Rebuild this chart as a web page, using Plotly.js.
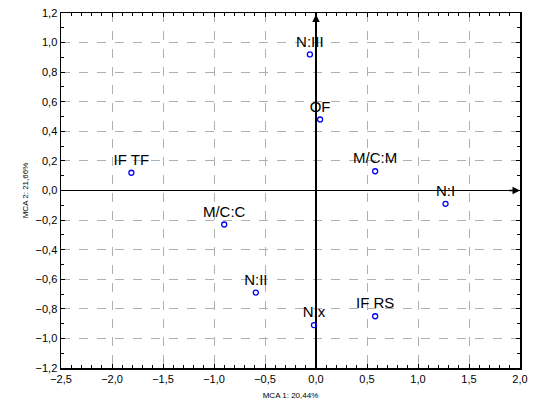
<!DOCTYPE html>
<html><head><meta charset="utf-8">
<script src="https://cdn.plot.ly/plotly-3.0.1.min.js"></script>
<style>body{margin:0;background:#fff}#chart{width:533px;height:412px}</style>
</head><body><div id="chart"></div>
<script>
const labels = ["N:III","OF","M/C:M","N:I","IF TF","M/C:C","N:II","N:x","IF RS"];
const dim1 = [-0.06, 0.04, 0.58, 1.27, -1.81, -0.90, -0.59, -0.02, 0.58];
const dim2 = [0.92, 0.48, 0.13, -0.09, 0.12, -0.23, -0.69, -0.91, -0.85];
const xTitle = "MCA 1: 20,44%";
const yTitle = "MCA 2: 21,66%";

const trace = {
  x: dim1, y: dim2, text: labels, mode: "markers+text", type: "scatter",
  textposition: "top center",
  textfont: {family: "Liberation Sans, Arial, sans-serif", size: 15, color: "#000"},
  marker: {symbol: "circle-open", size: 5, color: "#0000ff", line: {width: 1.3, color: "#0000ff"}},
  cliponaxis: false, hoverinfo: "none"
};

const axisCommon = {
  showline: true, linecolor: "#000", linewidth: 1.5, mirror: "ticks",
  ticks: "inside", ticklen: 4, tickcolor: "#000",
  showgrid: true, gridcolor: "#b0b0b0", griddash: "dash", gridwidth: 1,
  zeroline: true, zerolinecolor: "#000", zerolinewidth: 1.5,
  tickfont: {family: "Liberation Sans, Arial, sans-serif", size: 11, color: "#000"},
  tickformat: ".1f",
  minor: {ticks: "inside", ticklen: 3, tickcolor: "#000", showgrid: false}
};

const layout = {
  width: 533, height: 412,
  margin: {l: 61, r: 13, t: 13, b: 44},
  paper_bgcolor: "#fff", plot_bgcolor: "#fff",
  separators: ", ",
  showlegend: false,
  xaxis: Object.assign({}, axisCommon, {
    range: [-2.5, 2.0], dtick: 0.5, tick0: 0,
    minor: Object.assign({}, axisCommon.minor, {dtick: 0.1}),
    title: {text: xTitle, standoff: 8, font: {family: "Liberation Sans, Arial, sans-serif", size: 8, color: "#000"}}
  }),
  yaxis: Object.assign({}, axisCommon, {
    range: [-1.2, 1.2], dtick: 0.2, tick0: 0,
    minor: Object.assign({}, axisCommon.minor, {dtick: 0.1}),
    title: {text: yTitle, standoff: 6, font: {family: "Liberation Sans, Arial, sans-serif", size: 8, color: "#000"}}
  }),
  annotations: [
    {x: 2.0, y: 0, ax: 1.88, ay: 0, xref: "x", yref: "y", axref: "x", ayref: "y",
     showarrow: true, arrowhead: 2, arrowsize: 1, arrowwidth: 1.5, arrowcolor: "#000", text: ""},
    {x: 0, y: 1.19, ax: 0, ay: 1.1, xref: "x", yref: "y", axref: "x", ayref: "y",
     showarrow: true, arrowhead: 2, arrowsize: 1, arrowwidth: 1.5, arrowcolor: "#000", text: ""}
  ]
};

Plotly.newPlot("chart", [trace], layout, {staticPlot: true});
</script>
</body></html>
